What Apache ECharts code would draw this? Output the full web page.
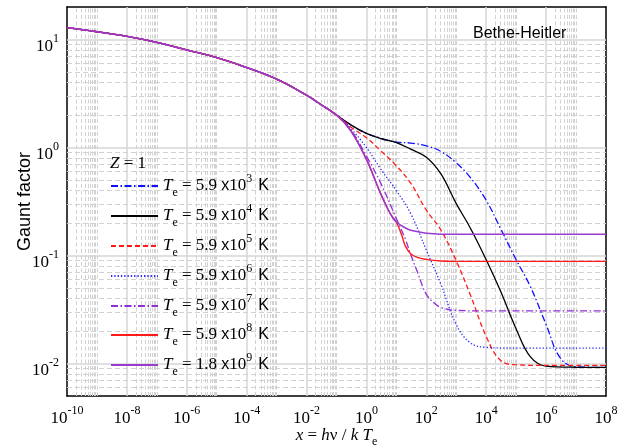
<!DOCTYPE html>
<html><head><meta charset="utf-8">
<script src="https://cdn.jsdelivr.net/npm/echarts@6/dist/echarts.min.js"></script>
<style>html,body{margin:0;padding:0;background:#fff}#c{width:633px;height:448px}</style>
</head><body><div id="c"></div>
<script>
// ---------------- data ----------------
const xTicks = [1e-10, 1e-8, 1e-6, 1e-4, 1e-2, 1, 1e2, 1e4, 1e6, 1e8];
const yTicks = [1e-2, 1e-1, 1, 10];
const xMajorGrid = [1e-8, 1e-6, 1e-4, 1e-2, 1, 1e2, 1e4, 1e6];
const yMajorGrid = [1e-2, 1e-1, 1, 10];
const xMinorDecades = [1e-10, 1e-8, 1e-6, 1e-4, 1e-2, 1, 1e2, 1e4, 1e6];
const xMinorMult = [2, 3, 4, 5, 6, 7, 8, 9, 10];
const yMinorDecades = [1e-3, 1e-2, 1e-1, 1];
const yMinorMult = [2, 3, 4, 5, 6, 7, 8, 9];

const tempMantissa = ['5.9', '5.9', '5.9', '5.9', '5.9', '5.9', '1.8'];
const tempExponent = [3, 4, 5, 6, 7, 8, 9];

// shared low-frequency part
const lowX = [1e-10, 1e-9, 1e-8, 1e-7, 1e-6, 1e-5, 1e-4, 1e-3, 1e-2, 3e-2];
const lowG = [12.9, 11.8, 10.7, 9.4, 8.0, 6.8, 5.5, 4.3, 3.05, 2.5];

const x_T3 = [0.1, 0.3, 1, 3, 10, 30, 100, 300, 1e3, 3e3, 1e4, 3e4, 1e5, 3e5, 1e6, 3e6, 1e7, 1e8];
const g_T3 = [2.0, 1.62, 1.35, 1.22, 1.12, 1.10, 1.035, 0.923, 0.721, 0.525, 0.324, 0.178, 0.0912, 0.0513, 0.0229, 0.0112, 0.0093, 0.0092];

const x_T4 = [0.1, 0.3, 1, 3, 10, 30, 100, 300, 1e3, 3e3, 1e4, 3e4, 1e5, 3e5, 1e6, 1e7, 1e8];
const g_T4 = [2.0, 1.62, 1.35, 1.21, 1.11, 0.966, 0.813, 0.575, 0.302, 0.178, 0.0912, 0.0468, 0.0209, 0.0115, 0.00944, 0.00923, 0.0092];

const x_T5 = [0.1, 0.3, 1, 3, 10, 30, 100, 300, 1e3, 3e3, 1e4, 3e4, 1e5, 1e6, 1e8];
const g_T5 = [2.0, 1.55, 1.23, 0.933, 0.676, 0.468, 0.263, 0.174, 0.0891, 0.0427, 0.0178, 0.0107, 0.00973, 0.0096, 0.0096];

const x_T6 = [0.1, 0.3, 1, 3, 10, 30, 100, 300, 1e3, 3e3, 1e4, 1e5, 1e8];
const g_T6 = [2.0, 1.50, 1.0, 0.631, 0.398, 0.245, 0.112, 0.055, 0.0229, 0.0155, 0.0141, 0.01387, 0.01387];

const x_T7 = [0.1, 0.3, 1, 3, 10, 20, 30, 50, 100, 200, 300, 1e3, 1e4, 1e8];
const g_T7 = [2.0, 1.46, 0.832, 0.468, 0.219, 0.141, 0.102, 0.0708, 0.0437, 0.0355, 0.0331, 0.031, 0.0307, 0.0307];

const x_T8 = [0.1, 0.3, 1, 2, 3, 5, 7, 10, 15, 20, 30, 50, 100, 300, 1e3, 1e8];
const g_T8 = [2.0, 1.43, 0.776, 0.490, 0.372, 0.275, 0.232, 0.203, 0.155, 0.122, 0.104, 0.096, 0.092, 0.089, 0.0883, 0.0883];

const x_T9 = [0.1, 0.3, 1, 2, 3, 5, 7, 10, 20, 30, 100, 1e3, 1e8];
const g_T9 = [2.0, 1.43, 0.776, 0.490, 0.372, 0.275, 0.232, 0.204, 0.180, 0.171, 0.161, 0.157, 0.157];

// ---------------- styles ----------------
const SERIF = '"Liberation Serif","Times New Roman",serif';
const SANS = '"Liberation Sans",Arial,sans-serif';
const curveX = [x_T3, x_T4, x_T5, x_T6, x_T7, x_T8, x_T9];
const curveG = [g_T3, g_T4, g_T5, g_T6, g_T7, g_T8, g_T9];
const colors = ['#1010ff', '#000000', '#ff1a1a', '#2a2aff', '#8e2fd6', '#ff1a1a', '#9a3bd0'];
const dashes = [[7, 2.5, 1.5, 2.5], 'solid', [5, 3], [1.3, 2], [7, 2.5, 1.5, 2.5], 'solid', 'solid'];
const widths = [1.3, 1.3, 1.3, 1.3, 1.3, 1.4, 1.5];

const names = tempMantissa.map((m, i) => 'Te = ' + m + ' x10^' + tempExponent[i] + ' K');

const legendRows = [173, 203, 233, 263, 293, 322, 352];

const richLegend = {
  t: {fontFamily: SERIF, fontStyle: 'italic', fontSize: 17, lineHeight: 17, verticalAlign: 'middle', color: '#000'},
  s: {fontFamily: SERIF, fontSize: 12, lineHeight: 10, verticalAlign: 'bottom', color: '#000'},
  n: {fontFamily: SERIF, fontSize: 17, lineHeight: 17, verticalAlign: 'middle', color: '#000'},
  x: {fontFamily: SANS, fontSize: 16, lineHeight: 17, verticalAlign: 'middle', color: '#000'},
  p: {fontFamily: SERIF, fontSize: 12, lineHeight: 16, verticalAlign: 'top', color: '#000'},
  k: {fontFamily: SANS, fontSize: 16, lineHeight: 26, verticalAlign: 'middle', color: '#000', padding: [0, 0, 0, 6]}
};

function legendLabel(name) {
  const i = names.indexOf(name);
  return '{t|T}{s|e}{n| = ' + tempMantissa[i] + ' }{x|x}{n|10}{p|' + tempExponent[i] + '}{k|K}';
}

const richTick = {
  b: {fontFamily: SERIF, fontSize: 17, lineHeight: 28, verticalAlign: 'middle', color: '#000'},
  s: {fontFamily: SERIF, fontSize: 12, lineHeight: 12, verticalAlign: 'top', color: '#000'}
};
function powLabel(v) {
  const e = Math.round(Math.log10(v));
  if (Math.abs(Math.log10(v) - e) > 1e-6) return '';
  return '{b|10}{s|' + e + '}';
}

// grid lines built from the axis values
const gridLines = [];
xMajorGrid.forEach(v => gridLines.push({xAxis: v, lineStyle: {color: '#d6d6d6', width: 1.5, type: 'solid'}}));
yMajorGrid.forEach(v => gridLines.push({yAxis: v, lineStyle: {color: '#d6d6d6', width: 1.5, type: 'solid'}}));
xMinorDecades.forEach(d => xMinorMult.forEach(m => gridLines.push({xAxis: d * m, lineStyle: {color: '#d2d2d2', width: 1, type: [4, 2.5]}})));
yMinorDecades.forEach(d => yMinorMult.forEach(m => {
  const v = d * m;
  if (v > 0.0051 && v < 19.9) gridLines.push({yAxis: v, lineStyle: {color: '#d2d2d2', width: 1, type: [5, 3]}});
}));

const series = [{
  type: 'line', data: [], silent: true, z: 1,
  markLine: {silent: true, symbol: ['none', 'none'], precision: 20, label: {show: false}, animation: false, z: 1, data: gridLines}
}];
curveX.forEach((xs, i) => {
  const pts = lowX.map((x, j) => [x, lowG[j]]).concat(xs.map((x, j) => [x, curveG[i][j]]));
  series.push({
    name: names[i], type: 'line', data: pts, symbol: 'none', showSymbol: false,
    smooth: 0.4, z: 3 + i,
    lineStyle: {color: colors[i], width: widths[i], type: dashes[i]},
    itemStyle: {color: colors[i]}
  });
});

const legends = names.map((n, i) => ({
  data: [n], left: 110, top: legendRows[i], orient: 'vertical', padding: 0,
  itemWidth: 47, itemHeight: 14, itemGap: 0, selectedMode: false,
  itemStyle: {opacity: 0, borderWidth: 0},
  formatter: legendLabel,
  textStyle: {rich: richLegend, padding: [0, 0, 0, 0]}
}));

const option = {
  animation: false,
  backgroundColor: '#fff',
  grid: {left: 67, right: 27, top: 7, bottom: 52, containLabel: false, outerBoundsMode: 'none'},
  title: [
    {text: 'Bethe-Heitler', left: 473, top: 26, padding: 0,
     textStyle: {fontFamily: SANS, fontSize: 16, fontWeight: 'normal', color: '#000'}},
    {text: '{z|Z}{n| = 1}', left: 110, top: 155, padding: 0,
     textStyle: {fontWeight: 'normal', rich: {
       z: {fontFamily: SERIF, fontStyle: 'italic', fontWeight: 'normal', fontSize: 17, color: '#000'},
       n: {fontFamily: SERIF, fontWeight: 'normal', fontSize: 17, color: '#000'}}}}
  ],
  legend: legends,
  xAxis: [{
    type: 'log', min: 1e-10, max: 1e8, position: 'bottom',
    axisLine: {show: true, lineStyle: {color: '#000', width: 1.5}},
    axisTick: {show: false, customValues: xTicks},
    splitLine: {show: false}, minorSplitLine: {show: false},
    axisLabel: {customValues: xTicks, formatter: powLabel, rich: richTick, margin: 9, showMinLabel: true, showMaxLabel: true},
    name: '{i|x}{n| = }{i|h}{n|ν / }{i|k}{n| }{i|T}{s|e}', nameLocation: 'middle', nameGap: 28, nameMoveOverlap: false,
    nameTextStyle: {rich: {
      i: {fontFamily: SERIF, fontStyle: 'italic', fontSize: 17, lineHeight: 24, verticalAlign: 'middle', color: '#000'},
      n: {fontFamily: SERIF, fontSize: 17, lineHeight: 24, verticalAlign: 'middle', color: '#000'},
      s: {fontFamily: SERIF, fontSize: 12, lineHeight: 8, verticalAlign: 'bottom', color: '#000'}}}
  }, {
    type: 'log', min: 1e-10, max: 1e8, position: 'top',
    axisLine: {show: true, lineStyle: {color: '#000', width: 1.5}},
    axisTick: {show: false}, axisLabel: {show: false}, splitLine: {show: false}
  }],
  yAxis: [{
    type: 'log', min: 0.005, max: 20, position: 'left',
    axisLine: {show: true, lineStyle: {color: '#000', width: 1.5}},
    axisTick: {show: false, customValues: yTicks},
    splitLine: {show: false},
    axisLabel: {customValues: yTicks, formatter: powLabel, rich: richTick, margin: 8, padding: [14, 0, 0, 0], showMinLabel: true, showMaxLabel: true},
    name: 'Gaunt factor', nameLocation: 'middle', nameGap: 33, nameRotate: 90, nameMoveOverlap: false,
    nameTextStyle: {fontFamily: SANS, fontSize: 18, color: '#000'}
  }, {
    type: 'log', min: 0.005, max: 20, position: 'right',
    axisLine: {show: true, lineStyle: {color: '#000', width: 1.5}},
    axisTick: {show: false}, axisLabel: {show: false}, splitLine: {show: false}
  }],
  series: series
};

const chart = echarts.init(document.getElementById('c'), null, {renderer: 'canvas'});
chart.setOption(option);
</script>
</body></html>
